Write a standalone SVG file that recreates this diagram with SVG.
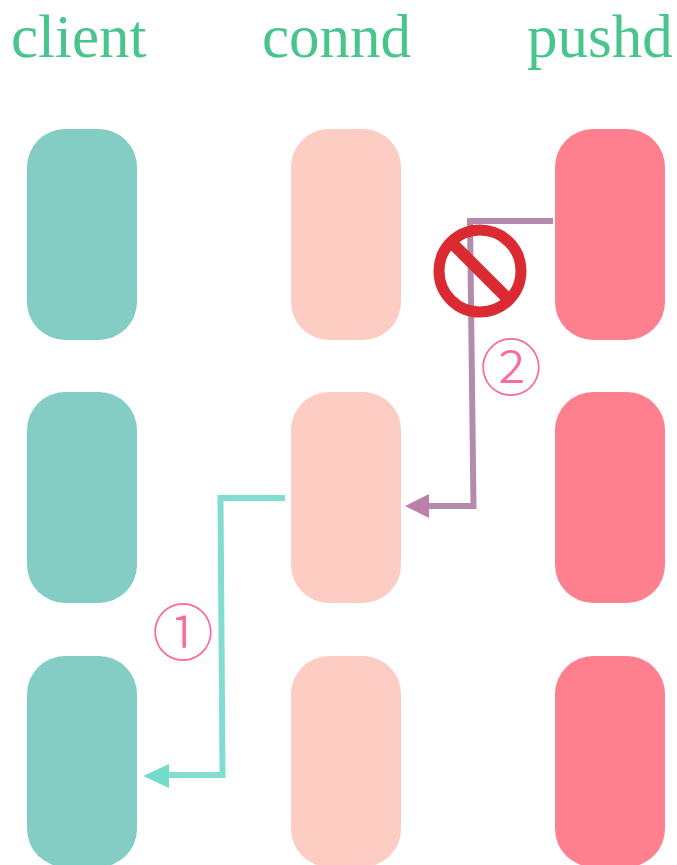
<svg xmlns="http://www.w3.org/2000/svg" width="677" height="865" viewBox="0 0 677 865">
<style>
.t{font-family:"Liberation Serif",serif;font-size:61px;fill:#48c58c}
.n{font-family:"Noto Sans CJK JP","Noto Sans CJK SC",serif;font-size:62px;fill:#fb6a9c;text-anchor:middle;font-weight:300}
.a{fill:#84cdc5}.b{fill:#fdccc2}.c{fill:#fe808e}
.l1{fill:none;stroke:#83dcd0;stroke-width:6}
.l2{fill:none;stroke:#b58bad;stroke-width:6}
</style>
<defs>
<rect id="r" width="110" height="211" rx="38" ry="38"/>
</defs>
<rect width="677" height="865" fill="#fff"/>
<g id="title-client"><text class="t" x="11" y="57">client</text></g>
<g id="title-connd"><text class="t" x="262" y="57">connd</text></g>
<g id="title-pushd"><text class="t" x="527" y="57">pushd</text></g>
<g id="client-1"><use href="#r" class="a" x="27" y="129"/></g>
<g id="client-2"><use href="#r" class="a" x="27" y="392"/></g>
<g id="client-3"><use href="#r" class="a" x="27" y="656"/></g>
<g id="connd-1"><use href="#r" class="b" x="291" y="129"/></g>
<g id="connd-2"><use href="#r" class="b" x="291" y="392"/></g>
<g id="connd-3"><use href="#r" class="b" x="291" y="656"/></g>
<g id="pushd-1"><use href="#r" class="c" x="555" y="129"/></g>
<g id="pushd-2"><use href="#r" class="c" x="555" y="392"/></g>
<g id="pushd-3"><use href="#r" class="c" x="555" y="656"/></g>
<g id="connectors">
<path class="l1" d="M285 498H220.500L222.500 775H160"/>
<path fill="#74dccb" d="M143 776L169 764V788Z"/>
<path class="l2" d="M553 221H470L473.500 506H425"/>
<path fill="#bb80a9" d="M405 506L429 494V518Z"/>
</g>
<g id="forbidden">
<circle cx="480" cy="271" r="41" fill="none" stroke="#da2a32" stroke-width="11"/>
<path d="M453 244L507 298" stroke="#da2a32" stroke-width="12" fill="none"/>
</g>
<g id="label-1"><text class="n" x="183" y="656">①</text></g>
<g id="label-2"><text class="n" x="511" y="391">②</text></g>
</svg>
